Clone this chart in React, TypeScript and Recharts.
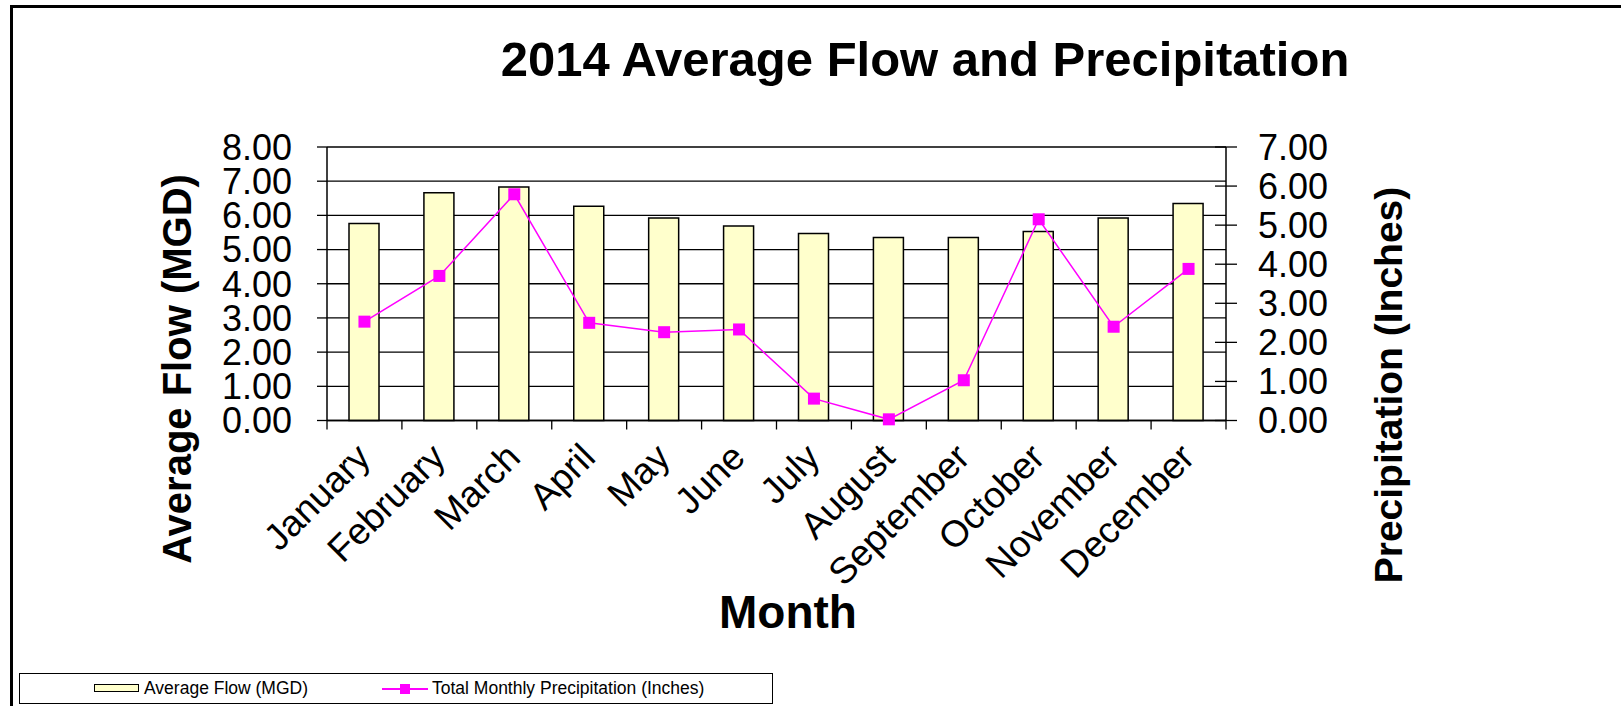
import React from "react";
import {
  ComposedChart, Bar, Line, XAxis, YAxis, CartesianGrid, Legend,
} from "recharts";

const months = [
  "January", "February", "March", "April", "May", "June",
  "July", "August", "September", "October", "November", "December",
];
const avgFlow = [5.76, 6.66, 6.83, 6.27, 5.92, 5.69, 5.47, 5.35, 5.35, 5.53, 5.92, 6.35];
const precip = [2.53, 3.7, 5.79, 2.5, 2.26, 2.33, 0.56, 0.03, 1.03, 5.15, 2.4, 3.88];
const flowTicks = [0, 1, 2, 3, 4, 5, 6, 7, 8];
const precipTicks = [0, 1, 2, 3, 4, 5, 6, 7];

const FONT = "'Liberation Sans', Arial, sans-serif";
const MAGENTA = "#ff00ff";
const BAR_FILL = "#ffffcc";

const CHART_W = 1621;
const CHART_H = 706;
const LEFT_W = 327;
const RIGHT_W = 395;
// width of one month slot, used for the between-category tick marks
const BAND = (CHART_W - LEFT_W - RIGHT_W) / months.length;

const data = months.map((m, i) => ({ month: m, flow: avgFlow[i], precip: precip[i] }));

// square marker like the excel one
const SquareDot = (props: any) => {
  const { cx, cy, size = 12 } = props;
  if (cx == null || cy == null) return null;
  return <rect x={cx - size / 2} y={cy - size / 2} width={size} height={size} fill={MAGENTA} />;
};

// rotated month label + tick marks sitting on the category boundaries
const MonthTick = ({ x, y, payload, index }: any) => {
  const px = x + 8;
  const py = y + 39;
  const last = index === months.length - 1;
  return (
    <g>
      <line x1={x - BAND / 2} x2={x - BAND / 2} y1={y} y2={y + 9} stroke="#000" strokeWidth={1.3} />
      {last && <line x1={x + BAND / 2} x2={x + BAND / 2} y1={y} y2={y + 9} stroke="#000" strokeWidth={1.3} />}
      <text
        x={px}
        y={py}
        transform={`rotate(-45, ${px}, ${py})`}
        textAnchor="end"
        fontSize={37}
        fontFamily={FONT}
        fill="#000"
      >
        {payload.value}
      </text>
    </g>
  );
};

// right axis ticks cross the axis line
const PrecipTick = ({ x, y, payload }: any) => (
  <g>
    <line x1={x - 43} x2={x - 21} y1={y} y2={y} stroke="#000" strokeWidth={1.3} />
    <text x={x} y={y} dy="0.35em" textAnchor="start" fontSize={36} fontFamily={FONT} fill="#000">
      {Number(payload.value).toFixed(2)}
    </text>
  </g>
);

const LegendBox = () => (
  <div
    style={{
      width: 754, height: 31, border: "1.5px solid #000", boxSizing: "border-box",
      position: "relative", fontFamily: FONT, fontSize: 17.5, color: "#000", background: "#fff",
    }}
  >
    <div style={{ position: "absolute", left: 74, top: 10, width: 45, height: 8, background: BAR_FILL, border: "1px solid #000", boxSizing: "border-box" }} />
    <span style={{ position: "absolute", left: 124, top: 4, lineHeight: "20px", whiteSpace: "nowrap" }}>Average Flow (MGD)</span>
    <div style={{ position: "absolute", left: 362, top: 14, width: 46, height: 2, background: MAGENTA }} />
    <div style={{ position: "absolute", left: 380, top: 10, width: 10, height: 10, background: MAGENTA }} />
    <span style={{ position: "absolute", left: 412, top: 4, lineHeight: "20px", whiteSpace: "nowrap" }}>Total Monthly Precipitation (Inches)</span>
  </div>
);

export default function App() {
  return (
    <div style={{ position: "absolute", left: 0, top: 0, width: CHART_W, height: CHART_H, overflow: "hidden", background: "#fff" }}>
      <div style={{ position: "absolute", left: 10, top: 5, width: 1700, height: 800, border: "3px solid #000" }} />
      <div style={{ position: "absolute", left: 0, top: 0 }}>
        <ComposedChart width={CHART_W} height={CHART_H} data={data} margin={{ top: 147, right: 0, bottom: 0, left: 0 }}>
          <CartesianGrid xAxisId="cat" yAxisId="flow" vertical={false} stroke="#000" strokeWidth={1.3} />
          <XAxis
            xAxisId="cat"
            dataKey="month"
            interval={0}
            height={285.5}
            tickSize={0}
            tickMargin={0}
            tickLine={false}
            axisLine={{ stroke: "#000", strokeWidth: 1.5 }}
            tick={<MonthTick />}
          />
          <YAxis
            yAxisId="flow"
            domain={[0, 8]}
            ticks={flowTicks}
            interval={0}
            width={LEFT_W}
            tickSize={10}
            tickMargin={25}
            axisLine={{ stroke: "#000", strokeWidth: 1.5 }}
            tickLine={{ stroke: "#000", strokeWidth: 1.3 }}
            tick={{ fill: "#000", fontSize: 36, fontFamily: FONT }}
            tickFormatter={(v: number) => v.toFixed(2)}
          />
          <YAxis
            yAxisId="precip"
            orientation="right"
            domain={[0, 7]}
            ticks={precipTicks}
            interval={0}
            width={RIGHT_W}
            tickSize={11}
            tickMargin={21}
            tickLine={false}
            axisLine={{ stroke: "#000", strokeWidth: 1.5 }}
            tick={<PrecipTick />}
          />
          <Bar
            xAxisId="cat"
            yAxisId="flow"
            dataKey="flow"
            name="Average Flow (MGD)"
            barSize={30}
            fill={BAR_FILL}
            stroke="#000"
            strokeWidth={1.5}
            isAnimationActive={false}
          />
          <Line
            xAxisId="cat"
            yAxisId="precip"
            dataKey="precip"
            name="Total Monthly Precipitation (Inches)"
            stroke={MAGENTA}
            strokeWidth={1.5}
            dot={<SquareDot />}
            activeDot={false}
            isAnimationActive={false}
          />
          <Legend
            layout="horizontal"
            verticalAlign="middle"
            align="center"
            wrapperStyle={{ left: 19, top: 673, width: 754, height: 31 }}
            content={() => <LegendBox />}
          />
        </ComposedChart>
      </div>
      <svg width={CHART_W} height={CHART_H} style={{ position: "absolute", left: 0, top: 0, pointerEvents: "none" }}>
        <text x={925} y={76} textAnchor="middle" fontSize={49} fontWeight="bold" fontFamily={FONT}>
          2014 Average Flow and Precipitation
        </text>
        <text x={788} y={628} textAnchor="middle" fontSize={46} fontWeight="bold" fontFamily={FONT}>
          Month
        </text>
        <text
          x={177} y={369} textAnchor="middle" dy="0.35em" fontSize={40} fontWeight="bold" fontFamily={FONT}
          transform="rotate(-90, 177, 369)"
        >
          Average Flow (MGD)
        </text>
        <text
          x={1388} y={385} textAnchor="middle" dy="0.35em" fontSize={39} fontWeight="bold" fontFamily={FONT}
          transform="rotate(-90, 1388, 385)"
        >
          Precipitation (Inches)
        </text>
      </svg>
    </div>
  );
}
